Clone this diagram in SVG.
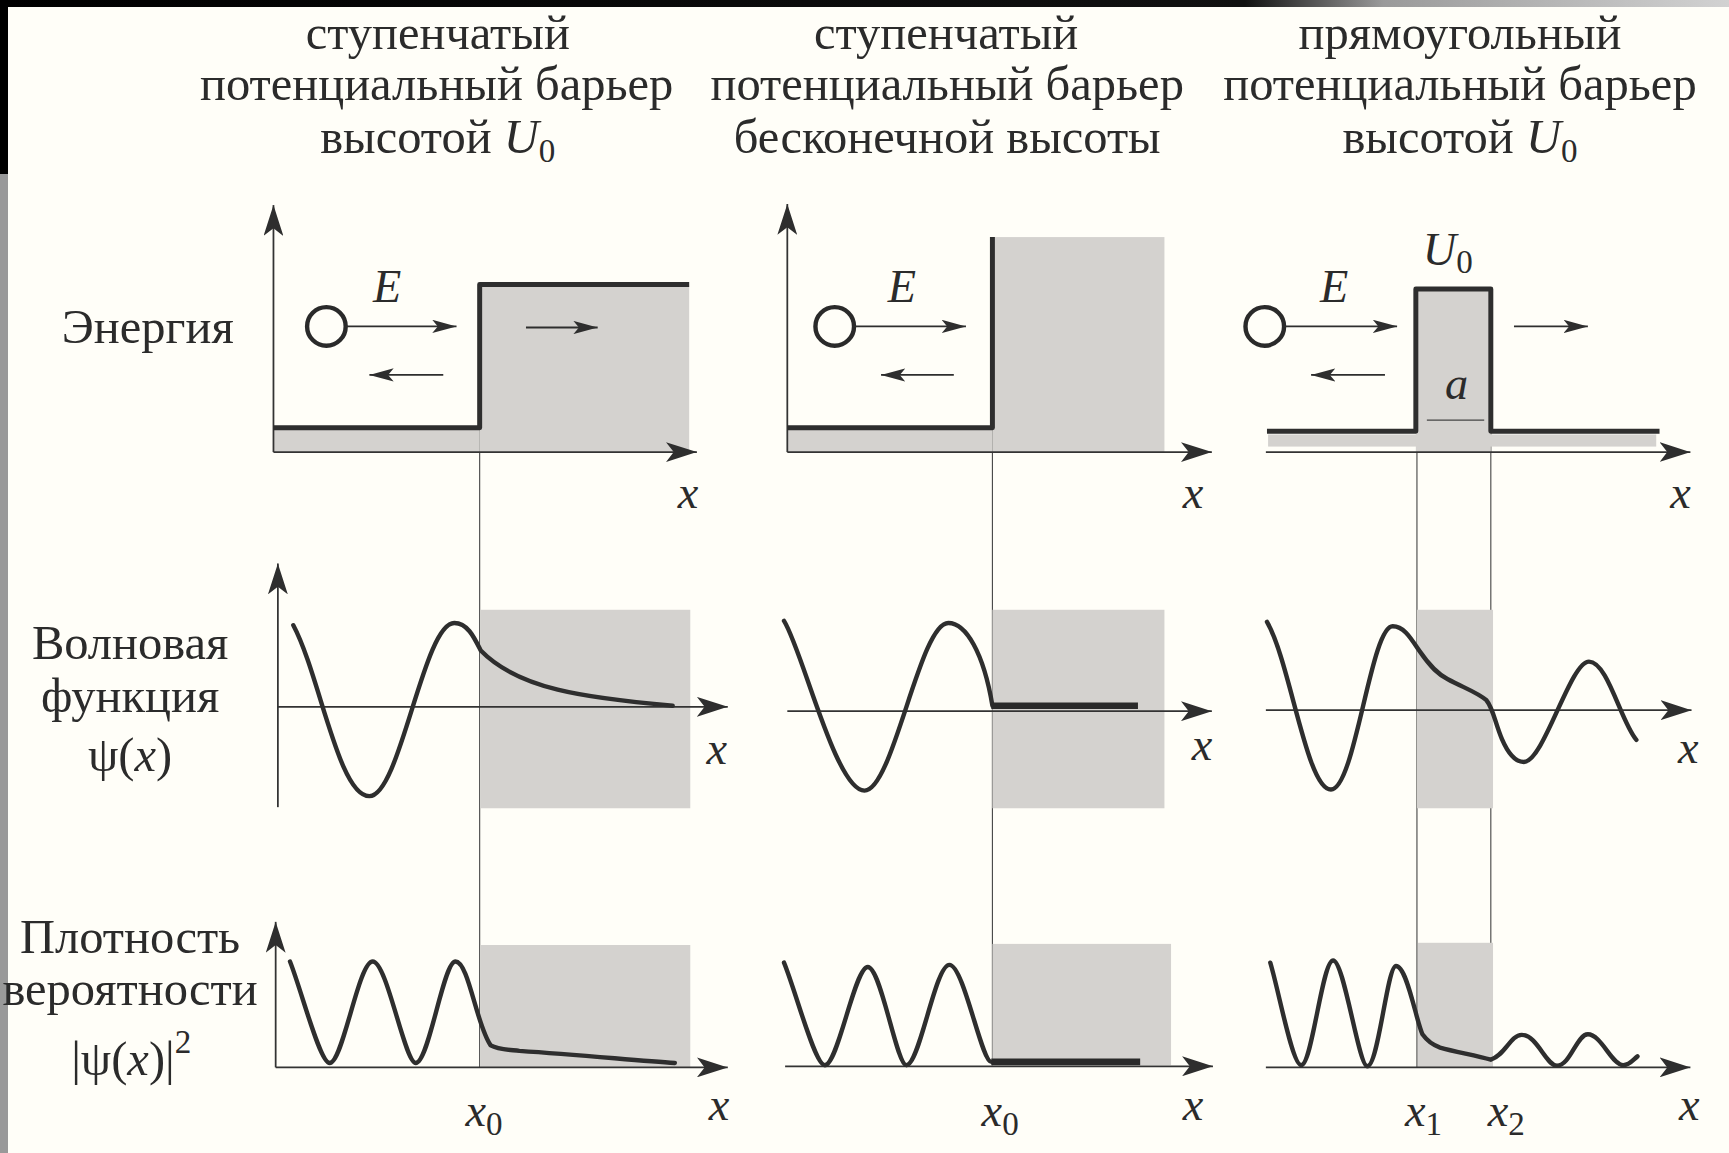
<svg xmlns="http://www.w3.org/2000/svg" width="1729" height="1153" viewBox="0 0 1729 1153">
<defs>
<linearGradient id="topbar" x1="0" y1="0" x2="1" y2="0">
<stop offset="0" stop-color="#000"/>
<stop offset="0.72" stop-color="#111"/>
<stop offset="0.8" stop-color="#9a9a9a"/>
<stop offset="1" stop-color="#d2d2d2"/>
</linearGradient>
<marker id="ah" markerUnits="userSpaceOnUse" markerWidth="22" markerHeight="12" refX="22" refY="6" orient="auto">
<path d="M0,0 L22,6 L0,12 L5,6 z" fill="#2e2e2e"/>
</marker>
<marker id="ax" markerUnits="userSpaceOnUse" markerWidth="28" markerHeight="18" refX="28" refY="9" orient="auto">
<path d="M0,0 L28,9 L0,18 L7,9 z" fill="#2e2e2e"/>
</marker>
<style>
.t{font-family:"Liberation Serif","Times New Roman",serif;font-size:44px;fill:#2b2b2b;text-anchor:middle}
.i{font-style:italic}
.lbl{font-family:"Liberation Serif","Times New Roman",serif;font-size:42px;fill:#2b2b2b;text-anchor:middle;font-style:italic}
.sub{font-style:normal;font-size:30px}
.axis{stroke:#333;stroke-width:1.6;fill:none;marker-end:url(#ax)}
.guide{stroke:#444;stroke-width:1;fill:none}
.thick{stroke:#2e2e2e;stroke-width:4.5;fill:none;stroke-linejoin:round}
.curve{stroke:#2e2e2e;stroke-width:4;fill:none;stroke-linecap:round;stroke-linejoin:round}
.flat{stroke:#2a2a2a;stroke-width:6;fill:none}
.arr{stroke:#2e2e2e;stroke-width:1.6;fill:none;marker-end:url(#ah)}
.gray{fill:#d4d2cf}
.ball{stroke:#2a2a2a;stroke-width:4;fill:none}
</style>
</defs>

<rect x="0" y="0" width="1729" height="1153" fill="#fffef8"/>
<g id="frame">
<rect x="0" y="0" width="1729" height="7" fill="url(#topbar)"/>
<rect x="0" y="0" width="8" height="174" fill="#000"/>
<rect x="0" y="174" width="8" height="979" fill="#999"/>
</g>

<g transform="scale(1.102679)">

<g id="titles">
<text class="t" x="397" y="44">ступенчатый</text>
<text class="t" x="396" y="91">потенциальный барьер</text>
<text class="t" x="397" y="139">высотой <tspan class="i">U</tspan><tspan class="sub" dy="8">0</tspan></text>
<text class="t" x="858" y="44">ступенчатый</text>
<text class="t" x="859" y="91">потенциальный барьер</text>
<text class="t" x="859" y="139">бесконечной высоты</text>
<text class="t" x="1324" y="44">прямоугольный</text>
<text class="t" x="1324" y="91">потенциальный барьер</text>
<text class="t" x="1324" y="139">высотой <tspan class="i">U</tspan><tspan class="sub" dy="8">0</tspan></text>
</g>

<g id="row-labels">
<text class="t" x="134" y="311">Энергия</text>
<text class="t" x="118" y="598">Волновая</text>
<text class="t" x="118" y="646">функция</text>
<text class="t" x="118" y="699">ψ(<tspan class="i">x</tspan>)</text>
<text class="t" x="118" y="864">Плотность</text>
<text class="t" x="118" y="911">вероятности</text>
<text class="t" x="119" y="975">|ψ(<tspan class="i">x</tspan>)|<tspan font-size="30" dy="-20">2</tspan></text>
</g>

<g id="guides">
<line class="guide" x1="435" y1="258" x2="435" y2="968"/>
<line class="guide" x1="900" y1="215" x2="900" y2="966"/>
<line class="guide" x1="1285" y1="262" x2="1285" y2="968"/>
<line class="guide" x1="1352" y1="262" x2="1352" y2="968"/>
</g>

<!-- Row 1: energy -->
<g id="energy-step">
<rect class="gray" x="248" y="388" width="187" height="22"/>
<rect class="gray" x="435" y="258" width="190" height="152"/>
<line class="axis" x1="248" y1="410" x2="248" y2="186"/>
<line class="axis" x1="248" y1="410" x2="632" y2="410"/>
<path class="thick" d="M248,388 H435 V258 H625"/>
<circle class="ball" cx="296" cy="296" r="17.5"/>
<line class="arr" x1="313" y1="296" x2="414" y2="296"/>
<line class="arr" x1="402" y1="340" x2="335" y2="340"/>
<line class="arr" x1="477" y1="297" x2="542" y2="297"/>
<text class="lbl" x="351" y="274">E</text>
<text class="lbl" x="624" y="461">x</text>
</g>

<g id="energy-infinite">
<rect class="gray" x="714" y="388" width="186" height="22"/>
<rect class="gray" x="900" y="215" width="156" height="195"/>
<line class="axis" x1="714" y1="410" x2="714" y2="185"/>
<line class="axis" x1="714" y1="410" x2="1099" y2="410"/>
<path class="thick" d="M714,388 H900 V215"/>
<circle class="ball" cx="757" cy="296" r="17.5"/>
<line class="arr" x1="774" y1="296" x2="876" y2="296"/>
<line class="arr" x1="865" y1="340" x2="799" y2="340"/>
<text class="lbl" x="818" y="274">E</text>
<text class="lbl" x="1082" y="461">x</text>
</g>

<g id="energy-rect">
<rect class="gray" x="1150" y="394" width="352" height="11"/>
<rect class="gray" x="1284" y="262" width="68" height="148"/>
<line class="axis" x1="1148" y1="410" x2="1533" y2="410"/>
<path class="thick" d="M1149,391 H1284 V262 H1352 V391 H1505"/>
<line class="guide" x1="1294" y1="381" x2="1346" y2="381"/>
<circle class="ball" cx="1147" cy="296" r="17.5"/>
<line class="arr" x1="1164" y1="296" x2="1267" y2="296"/>
<line class="arr" x1="1256" y1="340" x2="1189" y2="340"/>
<line class="arr" x1="1373" y1="296" x2="1440" y2="296"/>
<text class="lbl" x="1210" y="274">E</text>
<text class="lbl" x="1313" y="240">U<tspan class="sub" dy="8">0</tspan></text>
<text class="lbl" x="1321" y="362">a</text>
<text class="lbl" x="1524" y="461">x</text>
</g>

<!-- Row 2: wave function -->
<g id="psi-step">
<rect class="gray" x="436" y="553" width="190" height="180"/>
<line class="axis" x1="252" y1="732" x2="252" y2="511"/>
<line class="axis" x1="252" y1="641" x2="660" y2="641"/>
<path class="curve" d="M266,567 C290,612 307,722 335,722 C363,722 384,565 412,565 C424,565 430,578 436,590 C470,625 530,633 610,640"/>
<text class="lbl" x="650" y="693">x</text>
</g>

<g id="psi-infinite">
<rect class="gray" x="900" y="553" width="156" height="180"/>
<line class="axis" x1="714" y1="645" x2="1099" y2="645"/>
<path class="curve" d="M711,563 C728,590 758,717 784,717 C810,717 834,565 860,565 C876,565 892,592 900,640"/>
<line class="flat" x1="899" y1="640" x2="1032" y2="640"/>
<text class="lbl" x="1090" y="689">x</text>
</g>

<g id="psi-rect">
<rect class="gray" x="1285" y="553" width="69" height="180"/>
<line class="axis" x1="1148" y1="644" x2="1534" y2="644"/>
<path class="curve" d="M1149,564 C1170,600 1185,716 1207,716 C1229,716 1243,568 1263,568 C1273,568 1279,578 1287,590 C1298,606 1305,612 1313,616 C1328,624 1340,628 1348,635 C1354,642 1356,656 1362,670 C1368,684 1374,691 1382,691 C1400,691 1424,600 1441,600 C1458,600 1470,655 1484,671"/>
<text class="lbl" x="1531" y="692">x</text>
</g>

<!-- Row 3: probability density -->
<g id="prob-step">
<rect class="gray" x="436" y="857" width="190" height="111"/>
<line class="axis" x1="250" y1="968" x2="250" y2="836"/>
<line class="axis" x1="250" y1="968" x2="660" y2="968"/>
<path class="curve" d="M263,872 C274,900 290,964 299,964 C311,964 325,872 338,872 C351,872 367,964 377,964 C389,964 402,872 413,872 C425,872 432,930 445,948 C452,952 462,952 471,953 C530,957 580,962 612,964"/>
<text class="lbl" x="652" y="1016">x</text>
<text class="lbl" x="439" y="1021">x<tspan class="sub" dy="8">0</tspan></text>
</g>

<g id="prob-infinite">
<rect class="gray" x="900" y="856" width="162" height="110"/>
<line class="axis" x1="712" y1="967" x2="1100" y2="967"/>
<path class="curve" d="M711,873 C722,900 739,966 748,966 C760,966 775,877 787,877 C799,877 813,966 822,966 C834,966 848,875 861,875 C874,875 890,963 899,963"/>
<line class="flat" x1="899" y1="963" x2="1034" y2="963"/>
<text class="lbl" x="1082" y="1016">x</text>
<text class="lbl" x="907" y="1021">x<tspan class="sub" dy="8">0</tspan></text>
</g>

<g id="prob-rect">
<rect class="gray" x="1286" y="855" width="68" height="113"/>
<line class="axis" x1="1148" y1="968" x2="1533" y2="968"/>
<path class="curve" d="M1152,873 C1160,900 1172,966 1180,966 C1190,966 1199,871 1209,871 C1219,871 1232,967 1240,967 C1250,967 1258,876 1266,876 C1276,876 1284,925 1290,938 C1295,945 1300,948 1306,950 C1320,954 1338,957 1352,961 C1365,957 1370,938.5 1380,938.5 C1394,938.5 1402,966.5 1412,966.5 C1424,966.5 1430,938 1440,938 C1452,938 1462,966 1472,966 C1478,966 1481,961 1485,958"/>
<text class="lbl" x="1532" y="1016">x</text>
<text class="lbl" x="1291" y="1021">x<tspan class="sub" dy="8">1</tspan></text>
<text class="lbl" x="1366" y="1021">x<tspan class="sub" dy="8">2</tspan></text>
</g>

</g>
</svg>
